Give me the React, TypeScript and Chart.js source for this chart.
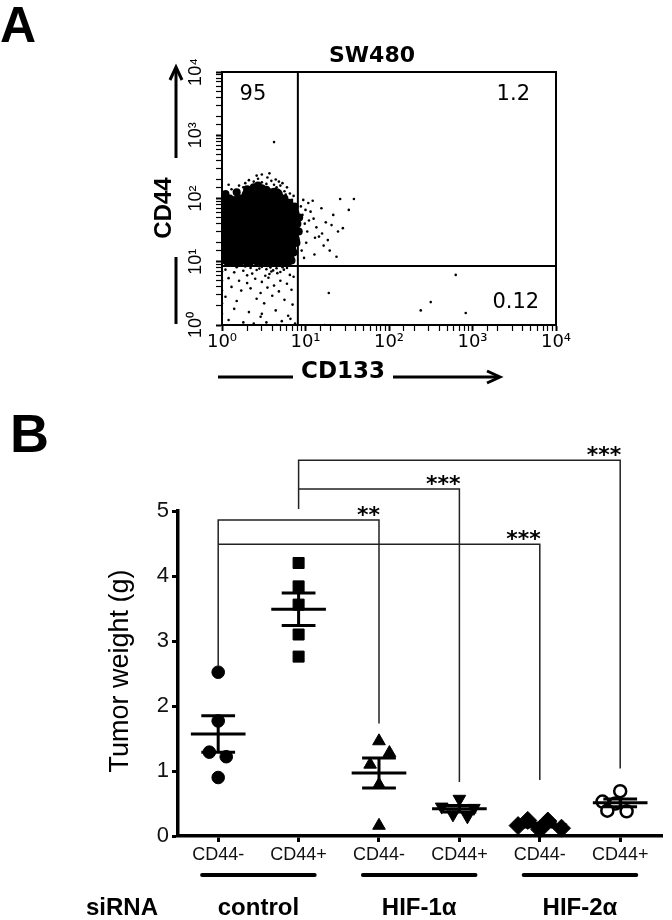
import React, { useEffect, useRef } from 'react';
import { Chart, registerables } from 'chart.js';

Chart.register(...registerables);

const SANS = '"Liberation Sans", Arial, Helvetica, sans-serif';
const WIDE = '"DejaVu Sans", Verdana, sans-serif';

// ---------------- Panel A : flow cytometry (SW480) ----------------
const panelATitle = 'SW480';
const flowXTitle = 'CD133';
const flowYTitle = 'CD44';
const decadeLabels = ['10⁰', '10¹', '10²', '10³', '10⁴'];
const flowMin = 1;
const flowMax = 10000;
const gateCD133 = 8.1;
const gateCD44 = 8.6;
const quadrantLabels = ['95', '1.2', '0.12'];
const quadrantCD133 = [2.35, 3080, 3300];
const quadrantCD44 = [4350, 4350, 2.3];

// dense core of the event cloud (rows of CD44 level, CD133 values in each row)
const coreRowsCD44 = [112, 89, 63, 45, 32, 22, 16, 11.2];
const coreRowsCD133 = [
  [2.1, 2.8, 3.6, 4.4],
  [1.2, 1.6, 2.1, 2.8, 3.6, 4.8],
  [1.2, 1.6, 2.1, 2.8, 3.6, 4.8, 6.0],
  [1.2, 1.6, 2.1, 2.8, 3.6, 4.8, 6.3, 7.0],
  [1.2, 1.6, 2.1, 2.8, 3.6, 4.8, 6.3, 7.0],
  [1.2, 1.6, 2.1, 2.8, 3.6, 4.8, 6.3, 7.0],
  [1.2, 1.6, 2.1, 2.8, 3.6, 4.8, 6.3],
  [1.2, 1.6, 2.1, 2.8, 3.6, 4.8, 6.0],
];

// ragged fringe of the cloud [CD133, CD44]
const fringeEvents: [number, number][] = [
  [1.1, 118], [1.5, 125], [2.0, 140], [2.4, 150], [3.0, 145], [3.4, 138], [4.2, 128], [4.7, 112],
  [5.6, 100], [6.4, 86], [1.9, 110], [2.7, 160],
  [7.4, 75], [7.6, 58], [8.0, 40], [8.3, 30], [7.8, 20], [7.2, 14], [6.8, 10.5], [8.4, 50],
  [1.3, 9.6], [2.0, 9.8], [2.7, 9.6], [3.5, 9.5], [4.4, 9.8], [5.4, 9.9],
];

// sparse single events [CD133, CD44]
const sparseEvents: [number, number][] = [
  [1.1, 100], [1.3, 140], [1.6, 160], [1.9, 175], [2.2, 116], [2.4, 185], [2.7, 205], [3.0, 180],
  [3.0, 240], [3.4, 170], [3.5, 215], [2.6, 230], [3.9, 190], [4.2, 165], [4.4, 200], [4.5, 150],
  [5.0, 160], [5.6, 130], [6.5, 120], [7.2, 110], [5.3, 175], [6.0, 150], [1.2, 165], [2.1, 195],
  [3.7, 250], [4.8, 185], [5.8, 115], [6.9, 95], [1.4, 130], [1.8, 150],
  [8.8, 75], [9.2, 55], [9.8, 40], [10.5, 30], [10.2, 20], [11.5, 62], [12.5, 48], [13.5, 35],
  [14.5, 25], [15.5, 70], [17.5, 42], [19.5, 15], [21.5, 55], [24.5, 30], [16.5, 18], [12.8, 13],
  [23.5, 12], [26, 98], [38, 98], [33, 66], [28, 34], [10.8, 85], [12.2, 92], [9.0, 15],
  [9.6, 11.5], [18.5, 22], [15.8, 28], [20.5, 38], [9.4, 95], [11, 45], [13, 24], [10, 66],
  [1.5, 8.2], [2.2, 8.0], [3.0, 8.3], [3.8, 8.1], [4.5, 7.9], [5.3, 8.2], [2.6, 7.4], [3.4, 7.6],
  [4.1, 7.3], [1.9, 8.4], [6.0, 8.0], [5.0, 6.9], [2.0, 6.1], [3.7, 6.4],
  [1.1, 7.5], [1.4, 6.8], [1.8, 7.2], [2.3, 6.5], [2.8, 7.8], [3.3, 6.0], [3.9, 7.0], [4.6, 6.6],
  [5.5, 7.5], [6.5, 6.2], [1.2, 5.5], [1.6, 5.0], [2.0, 4.6], [2.5, 5.4], [3.0, 4.8], [3.6, 5.6],
  [4.2, 4.2], [5.0, 5.0], [6.0, 4.5], [7.2, 5.8], [1.3, 4.0], [1.7, 3.5], [2.2, 3.8], [2.9, 3.2],
  [3.5, 3.9], [4.8, 3.4], [6.8, 3.6], [1.1, 2.8], [1.5, 2.4], [2.6, 2.6], [3.2, 2.2], [4.0, 2.9],
  [5.6, 2.5], [7.0, 2.1], [1.4, 1.8], [2.1, 1.6], [3.0, 1.5], [4.4, 1.7], [6.2, 1.4], [1.2, 1.2],
  [1.8, 1.1], [2.4, 1.05], [3.4, 1.1], [4.5, 1.0], [5.2, 1.15], [7.5, 1.05], [2.9, 1.35], [6.6, 1.25],
  [1.0, 9.5], [1.0, 7], [1.0, 5], [1.0, 3.5], [1.0, 2.2], [1.0, 1.5],
  [19, 3.2], [630, 6.2], [316, 2.3], [240, 1.7], [830, 1.55], [17, 1.0],
  [4.2, 780],
];

// ---------------- Panel B : tumor weight ----------------
const categories = ['CD44-', 'CD44+', 'CD44-', 'CD44+', 'CD44-', 'CD44+'];
const groupNames = ['control', 'HIF-1α', 'HIF-2α'];
const rowLabel = 'siRNA';
const weightTitle = 'Tumor weight (g)';
const weightTicks = [0, 1, 2, 3, 4, 5];

const controlNeg = [2.52, 1.77, 1.29, 1.22, 0.9];
const controlPos = [4.2, 3.84, 3.56, 3.1, 2.76];
const hif1Neg = [1.46, 1.28, 1.1, 0.79, 0.16];
const hif1Pos = [0.57, 0.45, 0.43, 0.33, 0.3];
const hif2Neg = [0.24, 0.23, 0.16, 0.12, 0.1];
const hif2Pos = [0.69, 0.53, 0.5, 0.39, 0.38];
const groupValues = [controlNeg, controlPos, hif1Neg, hif1Pos, hif2Neg, hif2Pos];
// horizontal spread of overlapping points (category units)
const groupSpread = [
  [0, 0, -0.11, 0.1, 0],
  [0, 0, 0, 0, 0],
  [0, 0.13, -0.11, 0, 0],
  [0, -0.22, 0.18, -0.08, 0.1],
  [-0.15, 0.1, -0.27, 0.27, 0],
  [0, -0.22, -0.06, -0.16, 0.08],
];
const groupMeans = [1.57, 3.49, 0.97, 0.42, 0.17, 0.51];
const groupSems = [0.28, 0.25, 0.23, 0.05, 0.03, 0.06];

const bracketFrom = [1, 1, 2, 2];
const bracketTo = [3, 5, 4, 6];
const bracketLevel = [4.86, 4.49, 5.34, 5.78];
const bracketLeftEnd = [2.62, 4.49, 5.03, 5.34];
const bracketRightEnd = [1.73, 0.86, 0.83, 1.04];
const bracketStars = ['**', '***', '***', '***'];

// styles
const markerStyles = ['circle', 'rect', 'triangle', 'triangle', 'rectRot', 'circle'];
const markerRotation = [0, 0, 0, 180, 0, 0];
const markerRadius = [6.3, 7.8, 7.3, 7.3, 9, 6];
const markerFill = ['#000', '#000', '#000', '#000', '#000', '#fff'];
const markerBorder = [1, 1, 1, 1, 1, 2.5];

const isDecade = (v: number) => Math.abs(Math.log10(v) - Math.round(Math.log10(v))) < 1e-9;
const decadeLabel = (v: number) => (isDecade(v) ? decadeLabels[Math.round(Math.log10(v))] ?? '' : '');

const panelADecor = {
  id: 'panelADecor',
  afterDraw(chart: any) {
    const { ctx, chartArea: ca, scales } = chart;
    const sx = scales.x;
    const sy = scales.y;
    ctx.save();
    ctx.strokeStyle = '#000';
    ctx.fillStyle = '#000';
    ctx.lineWidth = 2;
    ctx.strokeRect(ca.left, ca.top, ca.right - ca.left, ca.bottom - ca.top);

    ctx.font = `21px ${WIDE}`;
    ctx.textAlign = 'center';
    ctx.textBaseline = 'middle';
    quadrantLabels.forEach((t, i) => {
      ctx.fillText(t, sx.getPixelForValue(quadrantCD133[i]), sy.getPixelForValue(quadrantCD44[i]));
    });

    ctx.textBaseline = 'alphabetic';
    ctx.textAlign = 'left';
    ctx.font = `bold 50px ${SANS}`;
    ctx.fillText('A', 0, 42);

    ctx.textAlign = 'center';
    ctx.font = `bold 22px ${WIDE}`;
    ctx.fillText(panelATitle, 372, 62);

    // CD44 with arrow
    ctx.save();
    ctx.translate(164, 208);
    ctx.rotate(-Math.PI / 2);
    ctx.font = `bold 24px ${SANS}`;
    ctx.textBaseline = 'middle';
    ctx.fillText(flowYTitle, 0, 0);
    ctx.restore();
    ctx.lineWidth = 3;
    ctx.beginPath();
    ctx.moveTo(176, 324); ctx.lineTo(176, 257);
    ctx.moveTo(176, 158); ctx.lineTo(176, 68);
    ctx.stroke();
    ctx.beginPath();
    ctx.moveTo(170, 80); ctx.lineTo(176, 67); ctx.lineTo(182, 80);
    ctx.stroke();

    // CD133 with arrow
    ctx.font = `bold 23px ${WIDE}`;
    ctx.textBaseline = 'middle';
    ctx.fillText(flowXTitle, 343, 372);
    ctx.beginPath();
    ctx.moveTo(218, 377); ctx.lineTo(293, 377);
    ctx.moveTo(393, 377); ctx.lineTo(499, 377);
    ctx.stroke();
    ctx.beginPath();
    ctx.moveTo(487, 371); ctx.lineTo(500, 377); ctx.lineTo(487, 383);
    ctx.stroke();
    ctx.restore();
  },
};

const panelBDecor = {
  id: 'panelBDecor',
  afterDraw(chart: any) {
    const { ctx, scales } = chart;
    const sx = scales.x;
    const sy = scales.y;
    ctx.save();
    ctx.fillStyle = '#000';
    ctx.strokeStyle = '#000';
    ctx.textBaseline = 'alphabetic';
    ctx.textAlign = 'left';
    ctx.font = `bold 54px ${SANS}`;
    ctx.fillText('B', 10, 52);

    ctx.save();
    ctx.translate(121, 271);
    ctx.rotate(-Math.PI / 2);
    ctx.font = `27px ${SANS}`;
    ctx.textAlign = 'center';
    ctx.textBaseline = 'middle';
    ctx.fillText(weightTitle, 0, 0);
    ctx.restore();

    ctx.font = `bold 22px ${WIDE}`;
    ctx.textAlign = 'right';
    bracketStars.forEach((s, i) => {
      ctx.fillText(s, sx.getPixelForValue(bracketTo[i]) + 1, sy.getPixelForValue(bracketLevel[i]) + 2);
    });

    ctx.lineWidth = 4;
    ctx.lineCap = 'round';
    ctx.textAlign = 'center';
    ctx.font = `bold 24px ${SANS}`;
    groupNames.forEach((g, i) => {
      const a = sx.getPixelForValue(2 * i + 1 - 0.2);
      const b = sx.getPixelForValue(2 * i + 2 + 0.2);
      ctx.beginPath();
      ctx.moveTo(a, 475);
      ctx.lineTo(b, 475);
      ctx.stroke();
      ctx.fillText(g, (a + b) / 2, 515);
    });
    ctx.fillText(rowLabel, 122, 515);
    ctx.restore();
  },
};

function PanelA() {
  const ref = useRef<HTMLCanvasElement>(null);
  useEffect(() => {
    const cloudCore = coreRowsCD44.flatMap((y, i) => coreRowsCD133[i].map((x) => ({ x, y })));
    const cloudFringe = fringeEvents.map(([x, y]) => ({ x, y }));
    const cloudDots = sparseEvents.map(([x, y]) => ({ x, y }));
    const gates: any[] = [
      { x: gateCD133, y: flowMin }, { x: gateCD133, y: flowMax }, { x: gateCD133, y: null },
      { x: flowMin, y: gateCD44 }, { x: flowMax, y: gateCD44 },
    ];
    const chart = new Chart(ref.current as HTMLCanvasElement, {
      type: 'scatter',
      data: {
        datasets: [
          { data: gates, showLine: true, spanGaps: false, borderColor: '#000', borderWidth: 2, pointRadius: 0, clip: 0 } as any,
          { data: cloudDots, pointRadius: 1.3, backgroundColor: '#000', borderWidth: 0, clip: 0 } as any,
          { data: cloudFringe, pointRadius: 4, backgroundColor: '#000', borderWidth: 0, clip: 0 } as any,
          { data: cloudCore, pointRadius: 7.5, backgroundColor: '#000', borderWidth: 0, clip: 0 } as any,
        ],
      },
      options: {
        animation: false,
        responsive: false,
        devicePixelRatio: 1,
        events: [],
        layout: { padding: { left: 182, right: 116, top: 72, bottom: 35 } },
        plugins: { legend: { display: false }, tooltip: { enabled: false } },
        scales: {
          x: {
            type: 'logarithmic', min: flowMin, max: flowMax, position: 'bottom',
            afterFit: (s: any) => { s.height = 40; s.paddingLeft = 0; s.paddingRight = 0; },
            ticks: { autoSkip: false, maxRotation: 0, minRotation: 0, padding: 1, color: '#000', font: { family: WIDE, size: 18 }, callback: (v: any) => decadeLabel(Number(v)) },
            grid: { display: true, drawOnChartArea: false, drawTicks: true, tickLength: 6, tickColor: '#000', tickWidth: (c: any) => (c.tick && isDecade(c.tick.value) ? 2 : 1.2) },
            border: { display: true, color: '#000', width: 2 },
          },
          y: {
            type: 'logarithmic', min: flowMin, max: flowMax, position: 'left',
            afterFit: (s: any) => { s.width = 40; s.paddingTop = 0; s.paddingBottom = 0; },
            ticks: { autoSkip: false, minRotation: 90, maxRotation: 90, crossAlign: 'center', padding: 6, color: '#000', font: { family: SANS, size: 18 }, callback: (v: any) => decadeLabel(Number(v)) },
            grid: { display: true, drawOnChartArea: false, drawTicks: true, tickLength: 6, tickColor: '#000', tickWidth: (c: any) => (c.tick && isDecade(c.tick.value) ? 2 : 1.2) },
            border: { display: true, color: '#000', width: 2 },
          },
        },
      } as any,
      plugins: [panelADecor],
    });
    return () => chart.destroy();
  }, []);
  return <canvas ref={ref} width={672} height={400} style={{ position: 'absolute', left: 0, top: 0, width: 672, height: 400 }} />;
}

function PanelB() {
  const ref = useRef<HTMLCanvasElement>(null);
  useEffect(() => {
    const meanHalf = 0.34;
    const capHalf = 0.21;
    const summary: any[] = groupMeans.flatMap((m, i) => {
      const c = i + 1;
      const s = groupSems[i];
      return [
        { x: c - meanHalf, y: m }, { x: c + meanHalf, y: m }, { x: c, y: null },
        { x: c - capHalf, y: m + s }, { x: c + capHalf, y: m + s }, { x: c, y: null },
        { x: c - capHalf, y: m - s }, { x: c + capHalf, y: m - s }, { x: c, y: null },
        { x: c, y: m - s }, { x: c, y: m + s }, { x: c, y: null },
      ];
    });
    const brackets: any[] = bracketFrom.flatMap((f, i) => [
      { x: f, y: bracketLeftEnd[i] }, { x: f, y: bracketLevel[i] },
      { x: bracketTo[i], y: bracketLevel[i] }, { x: bracketTo[i], y: bracketRightEnd[i] },
      { x: f, y: null },
    ]);
    const pointSets = groupValues.map((vals, gi) => ({
      data: vals.map((v, k) => ({ x: gi + 1 + groupSpread[gi][k], y: v })),
      pointStyle: markerStyles[gi],
      pointRotation: markerRotation[gi],
      pointRadius: markerRadius[gi],
      backgroundColor: markerFill[gi],
      borderColor: '#000',
      borderWidth: markerBorder[gi],
      clip: false,
    }));
    const chart = new Chart(ref.current as HTMLCanvasElement, {
      type: 'scatter',
      data: {
        datasets: [
          { data: summary, showLine: true, spanGaps: false, borderColor: '#000', borderWidth: 3, pointRadius: 0, clip: false } as any,
          ...pointSets,
          { data: brackets, showLine: true, spanGaps: false, borderColor: '#222', borderWidth: 1.5, pointRadius: 0, clip: false } as any,
        ],
      },
      options: {
        animation: false,
        responsive: false,
        devicePixelRatio: 1,
        events: [],
        layout: { padding: { left: 128, right: 4, top: 111, bottom: 44 } },
        plugins: { legend: { display: false }, tooltip: { enabled: false } },
        scales: {
          x: {
            type: 'linear', min: 0.5, max: 6.52, position: 'bottom',
            afterBuildTicks: (s: any) => { s.ticks = categories.map((_, i) => ({ value: i + 1 })); },
            afterFit: (s: any) => { s.height = 40; s.paddingLeft = 0; s.paddingRight = 0; },
            ticks: { autoSkip: false, maxRotation: 0, minRotation: 0, padding: 2, color: '#111', font: { family: SANS, size: 18 }, callback: (v: any) => categories[Math.round(Number(v)) - 1] ?? '' },
            grid: { display: true, drawOnChartArea: false, drawTicks: true, tickLength: 6, tickColor: '#000', tickWidth: 3 },
            border: { display: true, color: '#000', width: 3.5 },
          },
          y: {
            type: 'linear', min: weightTicks[0], max: weightTicks[weightTicks.length - 1], position: 'left',
            afterBuildTicks: (s: any) => { s.ticks = weightTicks.map((v) => ({ value: v })); },
            afterFit: (s: any) => { s.width = 50; s.paddingTop = 0; s.paddingBottom = 0; },
            ticks: { autoSkip: false, padding: 3, color: '#111', font: { family: SANS, size: 22 }, callback: (v: any) => String(v) },
            grid: { display: true, drawOnChartArea: false, drawTicks: true, tickLength: 6, tickColor: '#000', tickWidth: 3 },
            border: { display: true, color: '#000', width: 3.5 },
          },
        },
      } as any,
      plugins: [panelBDecor],
    });
    return () => chart.destroy();
  }, []);
  return <canvas ref={ref} width={672} height={520} style={{ position: 'absolute', left: 0, top: 400, width: 672, height: 520 }} />;
}

export default function App() {
  return (
    <div style={{ position: 'absolute', left: 0, top: 0, width: 672, height: 920, background: '#fff' }}>
      <PanelA />
      <PanelB />
    </div>
  );
}
